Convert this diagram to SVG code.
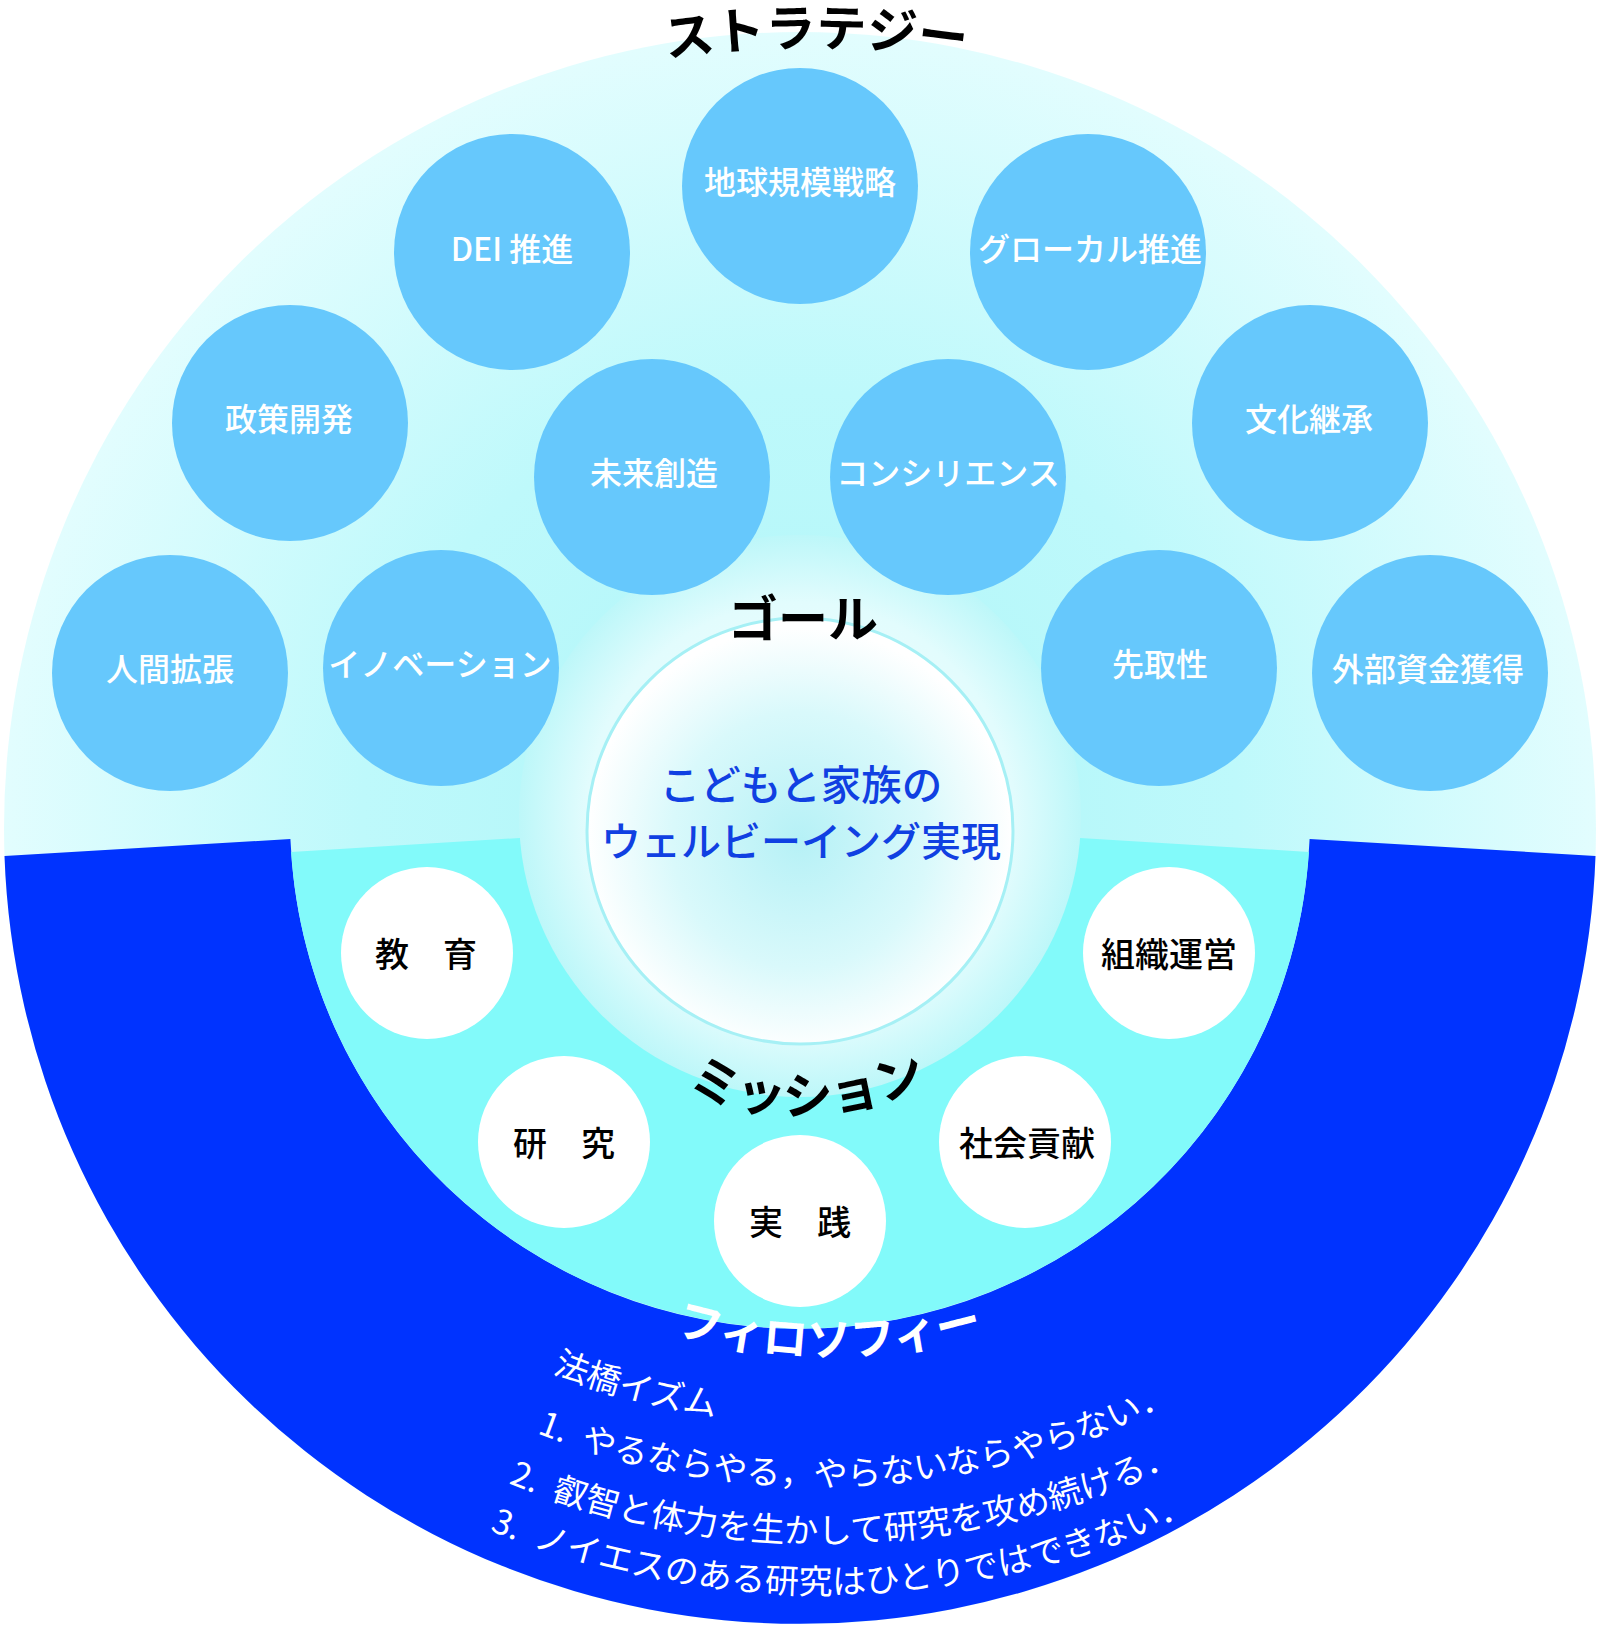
<svg xmlns="http://www.w3.org/2000/svg" width="1600" height="1626" viewBox="0 0 1600 1626">
<defs>
<style>
.jp{font-family:'Noto Sans CJK JP','Noto Sans',sans-serif;}
.strat circle{fill:#66C8FC;}
.strat text{font-size:32px;fill:#FFFFFF;text-anchor:middle;font-weight:500;}
.miss circle{fill:#FFFFFF;}
.miss text{font-size:34px;fill:#000000;text-anchor:middle;font-weight:500;}
.title{font-weight:bold;fill:#000000;}
.phil{font-size:34px;fill:#FFFFFF;}
</style>
<radialGradient id="gBg" gradientUnits="userSpaceOnUse" cx="800" cy="828" r="796">
<stop offset="0" stop-color="#ADF5F8"/>
<stop offset="0.55" stop-color="#BEF9FB"/>
<stop offset="1" stop-color="#E2FDFE"/>
</radialGradient>
<radialGradient id="gHalo" gradientUnits="userSpaceOnUse" cx="800" cy="816" r="281">
<stop offset="0" stop-color="#F8FFFF"/>
<stop offset="0.76" stop-color="#E2FCFD"/>
<stop offset="1" stop-color="#BDF7F9"/>
</radialGradient>
<radialGradient id="gGoal" gradientUnits="userSpaceOnUse" cx="800" cy="840" r="213">
<stop offset="0" stop-color="#B6F1F6"/>
<stop offset="0.6" stop-color="#D9F9FB"/>
<stop offset="1" stop-color="#FFFFFF"/>
</radialGradient>
<path id="arcStrategy" d="M 393.4 139.7 A 1000 1000 0 0 1 1238.6 139.7"/>
<path id="arcMission" d="M 583.2 1012.9 A 283 283 0 0 0 1016.8 1012.9"/>
<path id="arcPhilo" d="M 520.4 1258.7 A 538 538 0 0 0 1137.6 1258.7"/>
<path id="arcP0" d="M 552.3 1372.7 A 724 724 0 0 0 1447 1062"/>
<path id="arcP1" d="M 529.4 1430.3 A 786 786 0 0 0 1500.7 1093"/>
<path id="arcP2" d="M 508.3 1483.2 A 843 843 0 0 0 1550 1121.5"/>
<path id="arcP3" d="M 489.5 1530.6 A 894 894 0 0 0 1594.2 1147"/>
</defs>
<rect x="0" y="0" width="1600" height="1626" fill="#FFFFFF"/>
<g id="background">
<circle cx="800" cy="828" r="796" fill="url(#gBg)"/>
<path id="philosophy-band" d="M 4.5 856 L 290.4 839 A 510 510 0 0 0 1309.6 839 L 1595.5 856 A 796 796 0 0 1 4.5 856 Z" fill="#0033FF"/>
<path id="mission-area" d="M 291.1 852 L 520 838 L 1080 838 L 1308.9 852 A 510 510 0 0 1 291.1 852 Z" fill="#82FAFA"/>
<circle id="goal-halo" cx="800" cy="816" r="281" fill="url(#gHalo)"/>
</g>
<g id="connectors"/>
<g id="goal" class="jp">
<circle cx="800" cy="831" r="213" fill="url(#gGoal)" stroke="#A6F0F5" stroke-width="3"/>
<text x="801" y="800" font-size="40.5" fill="#1040E2" font-weight="500" text-anchor="middle">こどもと家族の</text>
<text x="801" y="856" font-size="40" fill="#1040E2" font-weight="500" text-anchor="middle">ウェルビーイング実現</text>
</g>
<g id="strategy-1" class="strat jp"><circle cx="800" cy="186" r="118"/><text x="800" y="194">地球規模戦略</text></g>
<g id="strategy-2" class="strat jp"><circle cx="512" cy="252" r="118"/><text x="512" y="261">DEI 推進</text></g>
<g id="strategy-3" class="strat jp"><circle cx="1088" cy="252" r="118"/><text x="1090" y="261">グローカル推進</text></g>
<g id="strategy-4" class="strat jp"><circle cx="290" cy="423" r="118"/><text x="289" y="431">政策開発</text></g>
<g id="strategy-5" class="strat jp"><circle cx="1310" cy="423" r="118"/><text x="1309" y="431">文化継承</text></g>
<g id="strategy-6" class="strat jp"><circle cx="652" cy="477" r="118"/><text x="654" y="485">未来創造</text></g>
<g id="strategy-7" class="strat jp"><circle cx="948" cy="477" r="118"/><text x="948" y="485">コンシリエンス</text></g>
<g id="strategy-8" class="strat jp"><circle cx="170" cy="673" r="118"/><text x="170" y="681">人間拡張</text></g>
<g id="strategy-9" class="strat jp"><circle cx="1430" cy="673" r="118"/><text x="1428" y="681">外部資金獲得</text></g>
<g id="strategy-10" class="strat jp"><circle cx="441" cy="668" r="118"/><text x="440" y="676">イノベーション</text></g>
<g id="strategy-11" class="strat jp"><circle cx="1159" cy="668" r="118"/><text x="1160" y="676">先取性</text></g>
<g id="mission-1" class="miss jp"><circle cx="427" cy="953" r="86"/><text x="426" y="967">教　育</text></g>
<g id="mission-2" class="miss jp"><circle cx="1169" cy="953" r="86"/><text x="1169" y="967">組織運営</text></g>
<g id="mission-3" class="miss jp"><circle cx="564" cy="1142" r="86"/><text x="564" y="1156">研　究</text></g>
<g id="mission-4" class="miss jp"><circle cx="800" cy="1221" r="86"/><text x="800" y="1235">実　践</text></g>
<g id="mission-5" class="miss jp"><circle cx="1025" cy="1142" r="86"/><text x="1027" y="1156">社会貢献</text></g>
<g id="labels" class="jp">
<text class="title" font-size="50"><textPath href="#arcStrategy" startOffset="50%" text-anchor="middle">ストラテジー</textPath></text>
<text class="title" x="803" y="637" font-size="50" text-anchor="middle">ゴール</text>
<text class="title" font-size="50"><textPath href="#arcMission" startOffset="255" text-anchor="middle">ミッション</textPath></text>
<text font-size="45" font-weight="bold" fill="#FFFFFF"><textPath href="#arcPhilo" startOffset="50%" text-anchor="middle">フィロソフィー</textPath></text>
</g>
<g id="philosophy-text" class="jp phil">
<text><textPath href="#arcP0">法橋イズム</textPath></text>
<text><textPath href="#arcP1" startOffset="8">1.&#x2002;やるならやる，やらないならやらない．</textPath></text>
<text><textPath href="#arcP2">2.&#x2002;叡智と体力を生かして研究を攻め続ける．</textPath></text>
<text><textPath href="#arcP3">3.&#x2002;ノイエスのある研究はひとりではできない．</textPath></text>
</g>
</svg>
